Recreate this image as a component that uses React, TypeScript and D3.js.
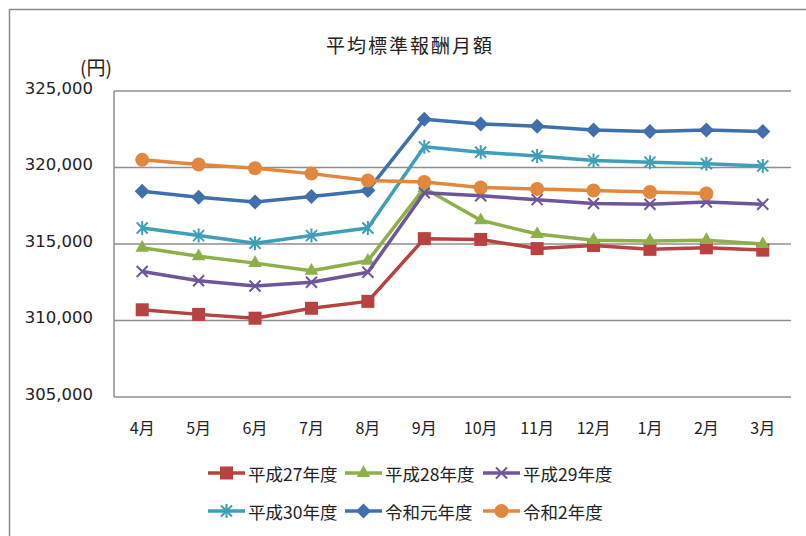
import React from "react";
import * as d3 from "d3";

const months = ["4月", "5月", "6月", "7月", "8月", "9月", "10月", "11月", "12月", "1月", "2月", "3月"];
const yTicks = [305000, 310000, 315000, 320000, 325000];

const h27 = [310700, 310400, 310150, 310800, 311250, 315350, 315300, 314700, 314900, 314650, 314750, 314600];
const h28 = [314750, 314200, 313750, 313250, 313900, 318650, 316550, 315650, 315250, 315200, 315250, 315000];
const h29 = [313200, 312600, 312250, 312500, 313150, 318350, 318150, 317900, 317650, 317600, 317750, 317600];
const h30 = [316050, 315550, 315050, 315550, 316050, 321350, 321000, 320750, 320450, 320350, 320250, 320100];
const r1 = [318450, 318050, 317750, 318100, 318500, 323150, 322850, 322700, 322450, 322350, 322450, 322350];
const r2 = [320500, 320200, 319950, 319600, 319150, 319050, 318700, 318600, 318500, 318400, 318300, null];

const seriesNames = ["平成27年度", "平成28年度", "平成29年度", "平成30年度", "令和元年度", "令和2年度"];
const seriesValues = [h27, h28, h29, h30, r1, r2];
const colors = ["#B7423F", "#8DB04B", "#6F559B", "#3E9FB9", "#3F70AD", "#E2873B"];
const markers = ["square", "triangle", "x", "asterisk", "diamond", "circle"];

const W = 806;
const H = 536;
const margin = { top: 91, right: 15, bottom: 139, left: 114 };

function Marker({ type, x, y, color }: { type: string; x: number; y: number; color: string }) {
  const t = `translate(${x},${y})`;
  if (type === "square") return <rect x={x - 6.5} y={y - 6.5} width={13} height={13} fill={color} />;
  if (type === "circle") return <circle cx={x} cy={y} r={7} fill={color} />;
  if (type === "triangle")
    return <path transform={t} d={d3.symbol().type(d3.symbolTriangle).size(80)() || ""} fill={color} />;
  if (type === "diamond") return <path transform={t} d="M0,-7.5L7.5,0L0,7.5L-7.5,0Z" fill={color} />;
  if (type === "x")
    return <path transform={t} d="M-5.5,-5.5L5.5,5.5M-5.5,5.5L5.5,-5.5" stroke={color} strokeWidth={2} fill="none" />;
  return (
    <path transform={t} d="M-5.5,-5.5L5.5,5.5M-5.5,5.5L5.5,-5.5M0,-7L0,7" stroke={color} strokeWidth={2} fill="none" />
  );
}

export default function App() {
  const width = W - margin.left - margin.right;
  const height = H - margin.top - margin.bottom;

  const x = d3.scaleBand().domain(months).range([0, width]);
  const y = d3.scaleLinear().domain([305000, 325000]).range([height, 0]);
  const cx = (m: string) => (x(m) || 0) + x.bandwidth() / 2;

  const line = d3
    .line<number | null>()
    .defined((d) => d != null)
    .x((_, i) => cx(months[i]))
    .y((d) => y(d as number));

  const fmt = d3.format(",");
  const jp = "'Noto Sans CJK JP', sans-serif";
  const num = "'DejaVu Sans', sans-serif";

  const legendCols = [208, 345, 483];
  const legendRows = [473, 511];

  return (
    <svg width={W} height={H} style={{ position: "absolute", left: 0, top: 0, background: "#fff" }}>
      <rect x={9.5} y={9.5} width={830} height={560} fill="none" stroke="#8a8a8a" strokeWidth={1.5} />
      <text x={410} y={44} textAnchor="middle" dominantBaseline="central" fontFamily={jp} fontSize={19} letterSpacing={2} fill="#222">
        平均標準報酬月額
      </text>
      <text x={96} y={66} textAnchor="middle" dominantBaseline="central" fontFamily={jp} fontSize={19} fill="#222">
        (円)
      </text>
      <g transform={`translate(${margin.left},${margin.top})`}>
        {yTicks.map((t) => (
          <g key={t}>
            <line x1={0} x2={width} y1={y(t)} y2={y(t)} stroke="#8f8f8f" strokeWidth={1.5} />
            <text x={-21} y={y(t) - 3} textAnchor="end" dominantBaseline="central" fontFamily={num} fontSize={16.5} fill="#222">
              {fmt(t)}
            </text>
          </g>
        ))}
        <line x1={0} x2={0} y1={0} y2={height} stroke="#8f8f8f" strokeWidth={1.5} />
        {months.map((m) => (
          <text key={m} x={cx(m)} y={height + 30} textAnchor="middle" dominantBaseline="central" fontFamily={jp} fontSize={16} fill="#222">
            {m}
          </text>
        ))}
        {seriesValues.map((vals, si) => (
          <g key={si}>
            <path d={line(vals) || ""} fill="none" stroke={colors[si]} strokeWidth={3.5} strokeLinejoin="round" />
            {vals.map((v, i) =>
              v == null ? null : <Marker key={i} type={markers[si]} x={cx(months[i])} y={y(v)} color={colors[si]} />
            )}
          </g>
        ))}
      </g>
      {seriesNames.map((name, si) => {
        const lx = legendCols[si % 3];
        const ly = legendRows[Math.floor(si / 3)];
        return (
          <g key={name}>
            <line x1={lx} x2={lx + 37} y1={ly} y2={ly} stroke={colors[si]} strokeWidth={3.5} />
            <Marker type={markers[si]} x={lx + 18.5} y={ly} color={colors[si]} />
            <text x={lx + 40} y={ly} dominantBaseline="central" fontFamily={jp} fontSize={17.5} fill="#222">
              {name}
            </text>
          </g>
        );
      })}
    </svg>
  );
}
